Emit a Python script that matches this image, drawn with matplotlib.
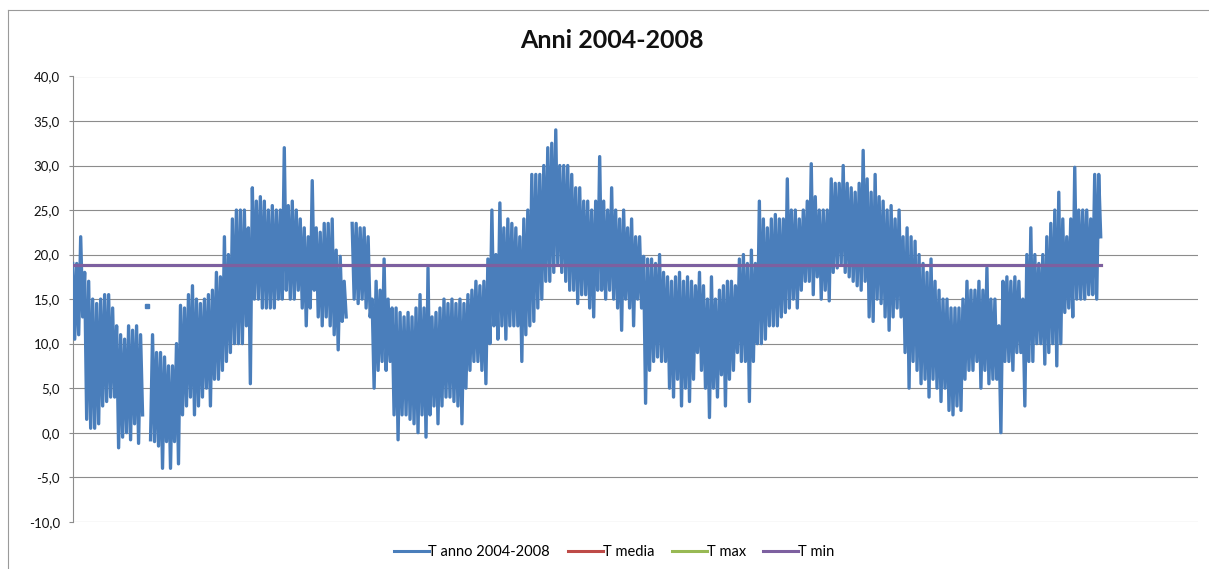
import numpy as np
import matplotlib
matplotlib.use("Agg")
import matplotlib.pyplot as plt
from matplotlib.lines import Line2D

# ---- data ----
# Each reading = (highest, lowest) temperature of the dense trace inside one
# narrow slice of the time axis; None = no data in that slice.
part1 = [(19, 10.5), (19, 11), (22, 13), (18, 1.5), (17, 0.5), (15, 0.5), (14.5, 1),
         (15, 3), (15.5, 3.5), (15.5, 4), (14, 4), (12, -1.7), (11, -0.5), (10.5, 0),
         (12, -0.8), (11.5, 1), (12, -1.2), (11, 2), (None, 14.2), (None, -0.8),
         (11, -1), (9, -1.5), (9, -4), (8.5, -1), (7.5, -4), (7.5, -1), (10, -3.5),
         (14.3, 2), (14, 3), (15.5, 4), (16.5, 2), (15, 3), (14.5, 4), (15, 5),
         (15.5, 3), (16, 6), (18, 6), (17.5, 7), (22, 8), (20, 9), (24, 10), (25, 10),
         (25, 10), (25, 12), (23, 5.5), (27.5, 15), (26, 15), (26.5, 14), (26, 14),
         (25, 14), (25.5, 14), (25, 15), (25, 15), (32, 16), (25.5, 15), (26, 15),
         (25, 16), (24, 14), (23, 12), (22, 14), (28.3, 16), (23, 13), (22.5, 12),
         (23.5, 13), (23.5, 12), (24, 11), (20.5, 9.3), (19.8, 12.5), (17, 13),
         (None, None)]
part2 = [(23.5, 15), (23.5, 14.5), (23, 15), (23, 14), (22, 13), (15, 5), (17, 7),
         (16, 8), (19.5, 7), (15, 8), (14, 2), (14, -0.8), (13.5, 2), (13, 2),
         (13.5, 1.5), (13, 1), (14, 0), (15.5, 2), (14, -0.5), (18.5, 2), (13, 3),
         (13.5, 1), (14, 3), (15, 4), (14.5, 4), (15, 3.5), (14.5, 3), (15, 1),
         (14.5, 5), (15.5, 7), (16, 8), (17, 8), (16.5, 7), (17, 5.5), (19.5, 10),
         (25, 12), (20, 10.5), (25.8, 12), (23, 10.5), (24, 12), (23.5, 12), (23, 12),
         (22, 8), (24, 11), (25, 12), (29, 12.5), (29, 14), (29, 15)]
part3 = [(30, 17), (32, 17), (32.5, 18), (34, 19), (30, 18), (30, 17), (30, 16),
         (29, 16), (27.5, 14.5), (27.5, 15.5), (26, 15.5), (26, 14), (25, 13),
         (26, 16), (31, 16), (26, 15), (25, 16), (27.5, 15), (25, 14), (24, 11.5),
         (25, 15), (23, 14), (24, 12), (22, 15), (22, 14), (19.8, 3.3), (19.5, 7),
         (19.5, 8), (19, 8.5), (20, 8), (18, 8), (17.5, 5), (17, 4), (17.5, 6),
         (18, 3), (17, 5), (17.5, 3.5), (17, 6), (16.5, 9), (18, 7), (16.5, 5),
         (15, 1.7), (17.5, 5), (15, 4), (16, 6.5), (16.5, 3), (17, 6), (17, 7),
         (16.5, 9), (19.5, 8), (20, 8), (19, 3.5), (20.5, 8), (19, 10)]
part4 = [(26, 10), (24, 10.5), (23, 12), (24, 12), (24.5, 12), (24, 13), (24, 13.5),
         (28.5, 14), (25, 15), (25, 14), (24, 16), (25, 17), (26, 17), (30.2, 15.5),
         (26.5, 17.5), (25, 15), (25, 16), (25, 14.8), (28.5, 18), (28, 18.5),
         (28, 19), (30, 18), (28, 17.5), (27.5, 17), (27, 16.5), (28, 16), (31.7, 17),
         (28.5, 13), (27, 12.5), (29, 15), (26.5, 14.5), (26, 13), (25, 11.5),
         (25.5, 13), (24, 14), (25, 13), (22, 9), (23, 5), (22, 8), (21.5, 7),
         (20, 5.5), (19, 6), (18, 4), (19.5, 6), (17, 5), (16, 3.5), (15, 5),
         (15, 2.5), (14, 2), (14, 3), (14, 2.5)]
part5 = [(15, 6), (17, 7), (16, 7), (16, 8), (17, 5), (16, 7), (18.5, 5.5), (15, 6),
         (15, 6), (12, 0), (17, 8), (17.5, 8), (17, 7), (17.5, 9), (17, 9), (15, 3),
         (20, 8), (23, 8), (20, 10), (19, 10), (20, 7.7), (22, 9), (23.5, 10),
         (25, 7.5), (27, 10), (24, 13.5), (22, 14), (24, 13), (29.8, 15), (25, 15),
         (25, 15), (25, 15.5), (24, 15.5), (29, 15), (29, 22)]
t_media = 18.8
t_max = 18.8
t_min = 18.8

series_label = "T anno 2004-2008"
title = "Anni 2004-2008"
y_ticks = [-10, -5, 0, 5, 10, 15, 20, 25, 30, 35, 40]

readings = part1 + part2 + part3 + part4 + part5
t_anno = np.array([np.nan if v is None else v for pair in readings for v in pair],
                  dtype=float)
n = len(t_anno)
x = np.arange(n)

plt.rcParams['font.family'] = ['Lato', 'DejaVu Sans']

W, H = 1209, 569
fig = plt.figure(figsize=(W / 100, H / 100), dpi=100)
fig.patch.set_facecolor('white')

ax_left, ax_right, ax_top, ax_bot = 72.7, 1198, 76.5, 521.7
ax = fig.add_axes([ax_left / W, 1 - ax_bot / H, (ax_right - ax_left) / W, (ax_bot - ax_top) / H])

grid_col = '#8c8c8c'
for t in y_ticks:
    ax.axhline(t, color=grid_col, lw=0.8, zorder=1)

blue = '#4A7EBB'
ax.plot(x, t_anno, color=blue, lw=2.4, solid_joinstyle='round', zorder=3,
        label=series_label)
# isolated readings (no neighbours) shown as dots like the original
iso = [i for i in range(n) if not np.isnan(t_anno[i])
       and (i == 0 or np.isnan(t_anno[i - 1])) and (i == n - 1 or np.isnan(t_anno[i + 1]))]
ax.plot(x[iso], t_anno[iso], 's', color=blue, ms=3, zorder=3)

ax.plot(x, np.full(n, t_media), color='#BE4B48', lw=2.2, zorder=4, label='T media')
ax.plot(x, np.full(n, t_max), color='#98B954', lw=2.2, zorder=4, label='T max')
ax.plot(x, np.full(n, t_min), color='#7D60A0', lw=2.2, zorder=5, label='T min')

px_per_pt = (1101 - 73) / (n - 1)
ax.set_xlim(0, (ax_right - ax_left) / px_per_pt)
ax.set_ylim(-10, 40)
ax.set_yticks(y_ticks)
ax.set_yticklabels([f"{t:.1f}".replace('.', ',') for t in y_ticks])
ax.set_xticks([])
for s in ['top', 'right', 'bottom']:
    ax.spines[s].set_visible(False)
ax.spines['left'].set_color(grid_col)
ax.spines['left'].set_linewidth(0.8)
ax.tick_params(axis='y', length=3.2, width=0.8, color=grid_col, labelsize=9.5,
               labelcolor='#111111', pad=6)

fig.text(611.5 / W, 1 - 41 / H, title, ha='center', va='center', fontsize=18,
         fontweight='bold', color='#111111')

handles = [Line2D([], [], color=c, lw=2.2) for c in [blue, '#BE4B48', '#98B954', '#7D60A0']]
labels = [series_label, 'T media', 'T max', 'T min']
fig.legend(handles, labels, loc='center', bbox_to_anchor=(614 / W, 1 - 552 / H), ncol=4,
           frameon=False, fontsize=10.5, handlelength=2.4, handletextpad=0.0,
           columnspacing=1.2, borderpad=0)

# chart border (left and top edges visible)
bc = '#9a9a9a'
fig.add_artist(Line2D([8 / W, 8 / W], [0, 1 - 9.5 / H], color=bc, lw=0.8))
fig.add_artist(Line2D([8 / W, 1], [1 - 9.5 / H, 1 - 9.5 / H], color=bc, lw=0.8))

fig.savefig('out.png', dpi=100)
